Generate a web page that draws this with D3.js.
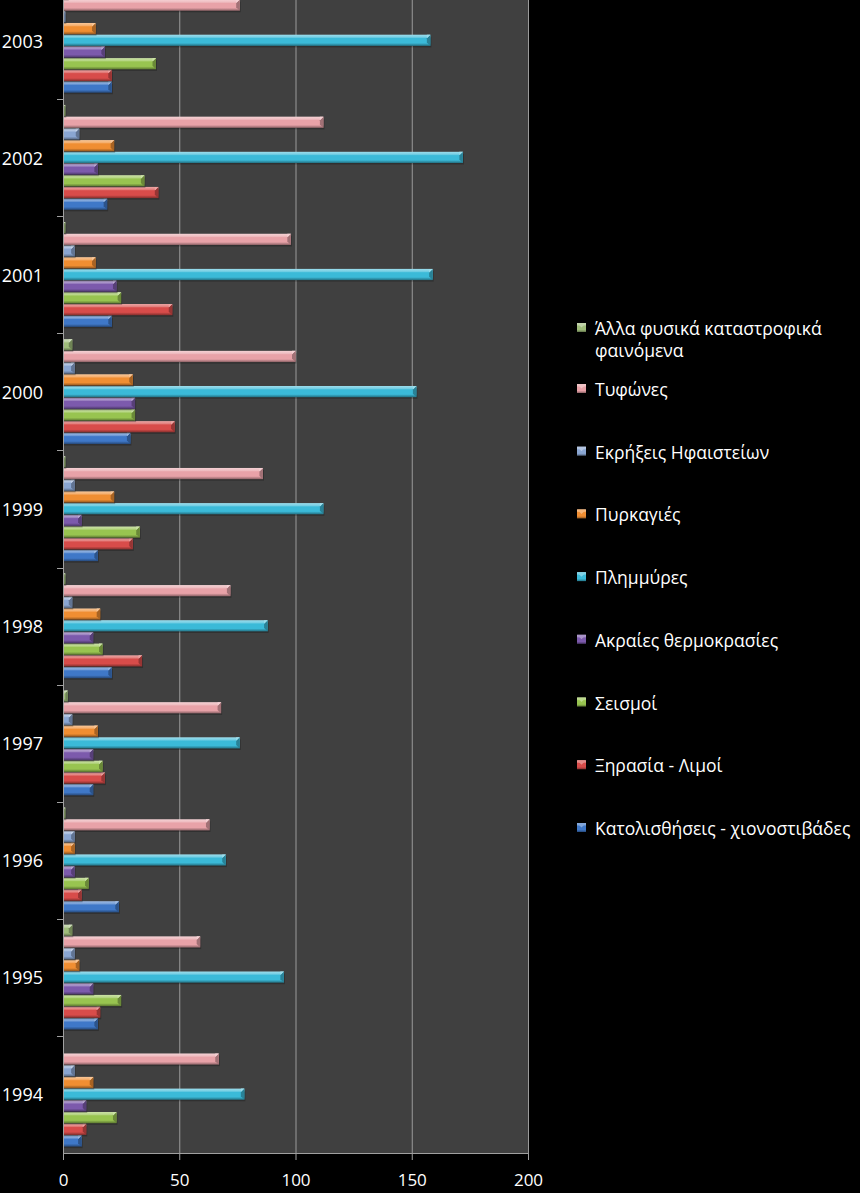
<!DOCTYPE html>
<html>
<head>
<meta charset="utf-8">
<script src="https://cdn.jsdelivr.net/npm/d3@7"></script>
<style>
  html, body { margin: 0; padding: 0; background: #000; }
  svg { display: block; }
  text { font-family: "Open Sans", "Noto Sans", sans-serif; fill: #fff; }
</style>
</head>
<body>
<svg id="chart" width="860" height="1193"></svg>
<script>
// ---------- DATA ----------
const years = ["1994","1995","1996","1997","1998","1999","2000","2001","2002","2003"];
const seriesNames = [
  "Κατολισθήσεις - χιονοστιβάδες",
  "Ξηρασία - Λιμοί",
  "Σεισμοί",
  "Ακραίες θερμοκρασίες",
  "Πλημμύρες",
  "Πυρκαγιές",
  "Εκρήξεις Ηφαιστείων",
  "Τυφώνες",
  "Άλλα φυσικά καταστροφικά φαινόμενα"
];
const katolisthiseis = [8, 15, 24, 13, 21, 15, 29, 21, 19, 21];
const xirasia        = [10, 16, 8, 18, 34, 30, 48, 47, 41, 21];
const seismoi        = [23, 25, 11, 17, 17, 33, 31, 25, 35, 40];
const akraies        = [10, 13, 5, 13, 13, 8, 31, 23, 15, 18];
const plimmyres      = [78, 95, 70, 76, 88, 112, 152, 159, 172, 158];
const pyrkagies      = [13, 7, 5, 15, 16, 22, 30, 14, 22, 14];
const ekrixeis       = [5, 5, 5, 4, 4, 5, 5, 5, 7, 1];
const tyfones        = [67, 59, 63, 68, 72, 86, 100, 98, 112, 76];
const alla           = [0, 4, 1, 2, 1, 1, 4, 1, 1, 2];
const seriesValues = [katolisthiseis, xirasia, seismoi, akraies, plimmyres, pyrkagies, ekrixeis, tyfones, alla];
const seriesColors = ["#3f78c8", "#d84c4a", "#98c450", "#7c5aac", "#3bbad8", "#f08e32", "#8aa6d2", "#e8a2a8", "#9fbc7a"];
const xTicks = [0, 50, 100, 150, 200];
const legendLines = {
  "Άλλα φυσικά καταστροφικά φαινόμενα": ["Άλλα φυσικά καταστροφικά", "φαινόμενα"]
};

// ---------- LAYOUT ----------
const plotLeft = 63, plotRight = 528, plotTop = -18, plotBottom = 1153;
const svg = d3.select("#chart");
const defs = svg.append("defs");

const x = d3.scaleLinear().domain([0, 200]).range([plotLeft, plotRight]);
const y = d3.scaleBand().domain(years.slice().reverse()).range([plotTop, plotBottom]).padding(0);
// series order inside a band, top to bottom
const inner = d3.scaleBand()
  .domain(seriesNames.slice().reverse())
  .range([0, y.bandwidth()])
  .paddingInner(0).paddingOuter(0.5);

// background
svg.append("rect").attr("x", 0).attr("y", 0).attr("width", 860).attr("height", 1193).attr("fill", "#000");
svg.append("rect").attr("x", plotLeft).attr("y", 0)
  .attr("width", plotRight - plotLeft).attr("height", plotBottom)
  .attr("fill", "#404040");

// gridlines
svg.append("g").selectAll("line").data(xTicks.slice(1)).join("line")
  .attr("x1", d => x(d) + 0.5).attr("x2", d => x(d) + 0.5)
  .attr("y1", 0).attr("y2", plotBottom)
  .attr("stroke", "#9a9a9a").attr("stroke-width", 1);

// gradients
seriesNames.forEach((s, i) => {
  const c = d3.color(seriesColors[i]);
  const g = defs.append("linearGradient").attr("id", "grad" + i)
    .attr("x1", 0).attr("y1", 0).attr("x2", 0).attr("y2", 1);
  const hi = d3.interpolateRgb(c, "#fff");
  const lo = d3.interpolateRgb(c, "#000");
  g.append("stop").attr("offset", "0%").attr("stop-color", hi(0.5));
  g.append("stop").attr("offset", "22%").attr("stop-color", hi(0.3));
  g.append("stop").attr("offset", "34%").attr("stop-color", c.formatHex());
  g.append("stop").attr("offset", "74%").attr("stop-color", c.formatHex());
  g.append("stop").attr("offset", "100%").attr("stop-color", lo(0.4));
});

// bars
const bars = svg.append("g");
seriesNames.forEach((s, i) => {
  const vals = seriesValues[i];
  const c = d3.color(seriesColors[i]);
  const gs = bars.append("g");
  years.forEach((yr, j) => {
    const v = vals[j];
    if (v <= 0) return;
    const y0 = y(yr) + inner(s);
    const h = inner.bandwidth();
    const x0 = x(0), x1 = x(v);
    const w = x1 - x0;
    // shadow
    gs.append("rect").attr("x", x0 + 1).attr("y", y0 + 2).attr("width", w).attr("height", h - 1)
      .attr("fill", "#000").attr("opacity", 0.25);
    gs.append("rect").attr("x", x0).attr("y", y0).attr("width", w).attr("height", h - 0.5)
      .attr("fill", "url(#grad" + i + ")");
    const b = Math.min(3.5, w / 2);
    gs.append("path")
      .attr("d", `M${x1 - b},${y0 + b} L${x1},${y0} L${x1},${y0 + h - 0.5} L${x1 - b},${y0 + h - 0.5 - b} Z`)
      .attr("fill", d3.interpolateRgb(c, "#000")(0.3));
    gs.append("path")
      .attr("d", `M${x1 - b},${y0 + b} L${x1},${y0} L${x1 - b},${y0} Z`)
      .attr("fill", d3.interpolateRgb(c, "#fff")(0.5));
  });
});

// y axis line and ticks
svg.append("line").attr("x1", plotLeft + 0.5).attr("x2", plotLeft + 0.5)
  .attr("y1", 0).attr("y2", plotBottom).attr("stroke", "#a0a0a0");
svg.append("g").selectAll("line").data(years).join("line")
  .attr("x1", plotLeft - 6).attr("x2", plotLeft)
  .attr("y1", d => Math.round(y(d)) + 0.5).attr("y2", d => Math.round(y(d)) + 0.5)
  .attr("stroke", "#a0a0a0");
svg.append("g").selectAll("text").data(years).join("text")
  .attr("x", 43).attr("y", d => y(d) + y.bandwidth() / 2)
  .attr("text-anchor", "end").attr("dominant-baseline", "central")
  .attr("font-size", 18).text(d => d);

// x axis
const xAxis = svg.append("g").attr("transform", `translate(0,${plotBottom})`)
  .call(d3.axisBottom(x).tickValues(xTicks).tickSize(7).tickPadding(14).tickSizeOuter(0));
xAxis.select(".domain").attr("stroke", "#a0a0a0");
xAxis.selectAll(".tick line").attr("stroke", "#a0a0a0");
xAxis.selectAll(".tick text").attr("fill", "#fff").attr("font-size", 17)
  .attr("font-family", "'Open Sans', 'Noto Sans', sans-serif");

// legend (top: last series)
const legendOrder = seriesNames.slice().reverse();
const legendY = d3.scalePoint().domain(legendOrder.slice(1)).range([389, 828]);
const legG = svg.append("g");
legendOrder.forEach((s, k) => {
  const i = seriesNames.indexOf(s);
  const ly = k === 0 ? 328 : legendY(s);
  const c = d3.color(seriesColors[i]);
  legG.append("rect").attr("x", 577).attr("y", ly - 5).attr("width", 9).attr("height", 9)
    .attr("fill", "url(#grad" + i + ")");
  legG.append("path").attr("d", `M577,${ly - 5} L581.5,${ly - 0.5} L586,${ly - 5} Z`)
    .attr("fill", d3.interpolateRgb(c, "#fff")(0.35));
  const lines = legendLines[s] || [s];
  const t = legG.append("text").attr("x", 595).attr("y", ly)
    .attr("dominant-baseline", "central").attr("font-size", 17.5);
  lines.forEach((ln, li) => {
    t.append("tspan").attr("x", 595).attr("dy", li === 0 ? 0 : 22).text(ln);
  });
});
</script>
</body>
</html>
